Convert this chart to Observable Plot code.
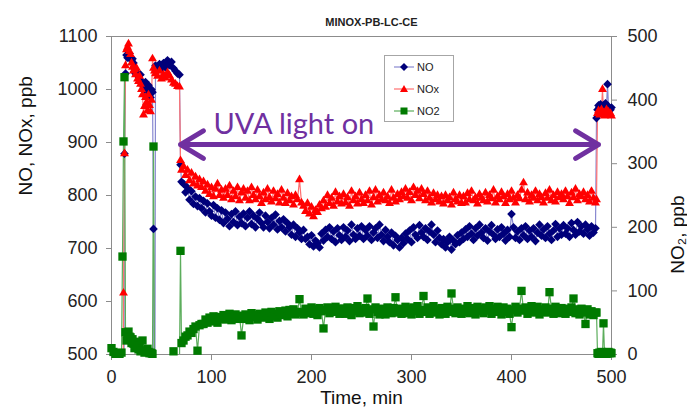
<!DOCTYPE html>
<html><head><meta charset="utf-8">
<script src="https://cdn.jsdelivr.net/npm/d3@7"></script>
<script src="https://cdn.jsdelivr.net/npm/@observablehq/plot@0.6"></script>
<style>
html,body{margin:0;padding:0;background:#fff;}
#wrap{position:relative;width:687px;height:413px;overflow:hidden;}
#legend{position:absolute;left:384px;top:55px;width:70px;height:67px;border:1px solid #a6a6a6;background:#fff;box-sizing:border-box;}
</style></head><body><div id="wrap"></div>
<script>
// ---- data (minutes; NO & NOx in ppb on the left axis, NO2 in ppb on the right axis) ----
const time = [
  0,2,4,6,8,10,11,12,13,
  14,15,16,17,18,19,20,21,22,23,24,25,26,27,28,29,30,31,32,33,34,35,36,37,38,39,40,41,
  42,43,
  44,46,48,50,52,54,56,58,60,62,64,66,68,
  69,70,
  72,74,76,78,80,82,84,86,88,90,
  92,94,96,98,100,102,104,106,108,110,
  112,114,116,118,120,122,124,126,128,130,
  132,134,136,138,140,142,144,146,148,150,
  152,154,156,158,160,162,164,166,168,170,
  172,174,176,178,180,182,184,186,188,190,
  192,194,196,198,200,202,204,206,208,210,
  212,214,216,218,220,222,224,226,228,230,
  232,234,236,238,240,242,244,246,248,250,
  252,254,256,258,260,262,264,266,268,270,
  272,274,276,278,280,282,284,286,288,290,
  292,294,296,298,300,302,304,306,308,310,
  312,314,316,318,320,322,324,326,328,330,
  332,334,336,338,340,342,344,346,348,350,
  352,354,356,358,360,362,364,366,368,370,
  372,374,376,378,380,382,384,386,388,390,
  392,394,396,398,400,402,404,406,408,410,
  412,414,416,418,420,422,424,426,428,430,
  432,434,436,438,440,442,444,446,448,450,
  452,454,456,458,460,462,464,466,468,470,
  472,474,476,478,480,482,484,
  485,486,487,488,489,490,491,492,493,494,495,496,497,498,499,500
];
const NO = [
  0,0,0,0,0,0,0,0,879,
  1030,1065,1060,1062,1068,1060,1055,1058,1050,1040,1030,1033,1028,1025,1020,1028,1015,1012,1005,1000,1014,1005,995,1008,990,985,1000,995,
  737,0,
  1045,1040,1048,1038,1050,1042,1055,1046,1052,1040,1035,1030,1028,
  858,826,
  822,806,815,792,808,784,798,780,795,776,
  790,768,785,770,762,782,758,776,754,772,
  748,768,756,742,765,750,770,744,760,748,
  766,742,758,770,746,762,740,756,768,748,
  740,762,750,738,758,745,764,736,752,740,
  755,732,748,740,726,745,722,738,730,718,
  735,718,722,708,725,704,715,710,702,728,
  715,735,722,740,718,732,712,738,725,716,
  740,722,734,714,745,726,718,738,724,742,
  718,735,724,742,716,730,738,720,745,726,
  714,735,722,712,730,706,724,716,702,720,
  710,728,718,734,712,740,726,720,744,730,
  722,738,716,732,745,726,712,734,720,708,
  718,702,712,722,698,715,708,725,712,730,
  718,736,722,742,728,716,738,724,745,730,
  720,738,715,732,744,726,718,736,722,740,
  728,715,735,722,765,740,720,732,716,738,
  725,742,718,734,722,738,714,730,745,724,
  736,720,742,728,716,734,746,722,738,726,
  744,728,738,722,748,735,726,750,732,742,
  728,745,736,724,742,730,738,
  946,962,970,966,972,968,965,970,966,974,968,1010,968,965,962,966
];
const NOx = [
  0,0,0,0,0,0,0,616,879,
  1045,1075,1080,1086,1072,1066,1050,1042,1035,1038,1028,1040,1020,1015,1025,1010,1000,990,952,968,985,975,960,990,970,958,980,1058,
  1040,1035,
  1030,1025,1035,1020,1028,1022,1032,1026,1018,1012,1010,1006,1005,
  866,848,
  855,838,848,828,842,822,835,818,830,815,
  826,808,820,802,815,798,812,822,800,810,
  795,812,800,818,792,808,798,815,790,805,
  812,795,808,790,815,800,792,810,798,785,
  805,792,812,796,788,808,794,802,786,810,
  795,785,804,790,798,782,800,792,830,786,
  780,770,785,765,778,760,772,768,782,775,
  790,778,800,785,795,780,806,788,798,784,
  802,786,796,780,808,790,798,784,805,792,
  785,800,790,808,782,796,810,788,800,792,
  805,790,798,785,810,795,788,802,792,806,
  798,812,795,806,790,815,800,808,794,812,
  802,790,808,795,786,804,792,800,788,798,
  784,800,790,796,782,805,792,788,800,785,
  798,786,804,792,808,790,796,784,802,795,
  790,805,788,800,794,810,786,798,792,806,
  798,785,802,792,808,795,786,800,794,810,
  824,792,805,788,800,795,808,790,802,796,
  786,804,795,810,790,800,788,806,796,802,
  792,808,798,785,805,796,812,790,802,798,
  806,792,800,788,808,795,786,
  792,955,960,952,958,962,1000,956,950,958,962,955,958,952,955,950
];
const NO2 = [
  10,4,1,2,1,3,154,335,436,
  35,22,30,36,28,27,18,24,17,10,14,20,14,8,12,5,6,22,6,3,4,5,9,4,2,3,2,1,
  327,-10,
  -10,-10,-10,-10,-10,-10,-10,-10,-10,5,-10,-10,-10,
  163,18,
  22,28,30,36,34,40,44,6,46,48,
  48,55,50,58,52,60,54,50,59,56,
  62,55,60,64,54,58,63,56,61,30,
  56,63,58,54,65,59,62,55,64,60,
  58,66,61,56,67,60,64,58,68,63,
  62,69,60,70,64,71,63,67,87,66,
  63,72,65,70,74,64,71,62,73,68,
  41,70,74,65,73,67,75,69,64,72,
  72,64,74,67,62,73,68,76,65,71,
  66,73,88,64,71,44,74,67,63,72,
  70,63,74,68,65,73,90,66,72,64,
  71,75,65,72,63,74,68,76,64,70,
  92,67,74,64,72,76,66,71,63,73,
  70,64,75,67,96,72,65,74,69,64,
  72,67,76,65,73,70,63,75,68,72,
  65,74,69,76,64,72,67,75,70,63,
  74,67,72,64,43,70,75,66,72,100,
  69,74,64,72,76,66,70,75,63,71,
  67,74,66,98,72,64,75,69,65,73,
  70,64,72,67,74,88,65,71,63,72,
  66,48,71,63,68,62,66,
  66,2,1,3,2,4,1,49,2,3,1,2,4,2,3,2
];
const xTicks = [0, 100, 200, 300, 400, 500];
const leftTicks = [500, 600, 700, 800, 900, 1000, 1100];
const rightTicks = [0, 100, 200, 300, 400, 500];
const seriesNames = ["NO", "NOx", "NO2"];
const titleText = "MINOX-PB-LC-CE";
const noteText = "UVA light on";
const arrowSpan = [69, 487];   // minutes
const arrowLevel = 896;         // ppb (left axis)
const noteAt = [102, 934];      // minutes, ppb

// ---- helpers ----
const leftDomain = [500, 1100], rightDomain = [0, 500];
const toLeft = v => leftDomain[0] + (v - rightDomain[0]) * (leftDomain[1] - leftDomain[0]) / (rightDomain[1] - rightDomain[0]);
const fromLeft = v => rightDomain[0] + (v - leftDomain[0]) * (rightDomain[1] - rightDomain[0]) / (leftDomain[1] - leftDomain[0]);
const rows = time.map((t, i) => ({t, NO: NO[i], NOx: NOx[i], NO2: NO2[i], NO2L: toLeft(NO2[i])}));

const col = {NO: "#00007a", NOx: "#ff0000", NO2: "#007a00"};
const lineCol = {NO: "#8888d0", NOx: "#ff7070", NO2: "#5cad5c"};
const purple = "#7030a0";
const axisGray = "#8c8c8c";
const inLeft = v => v >= leftDomain[0] && v <= leftDomain[1];
const mid = (arrowSpan[0] + arrowSpan[1]) / 2;

const chart = Plot.plot({
  width: 687, height: 413,
  marginLeft: 111, marginRight: 76, marginTop: 36, marginBottom: 59,
  style: {fontFamily: "'Liberation Sans', Arial, sans-serif", fontSize: "18px", color: "#222", background: "#fff", overflow: "visible"},
  x: {domain: [0, 500]},
  y: {domain: leftDomain},
  marks: [
    Plot.frame({stroke: axisGray}),
    Plot.axisX(xTicks, {tickSize: 6, tickPadding: 10, stroke: axisGray, fill: "#222", label: null, fontSize: 18, tickFormat: d => String(d)}),
    Plot.axisY(leftTicks, {anchor: "left", tickSize: 5, tickPadding: 9, stroke: axisGray, fill: "#222", label: null, fontSize: 18, tickFormat: d => String(d)}),
    Plot.axisY(rightTicks.map(toLeft), {anchor: "right", tickSize: 5, tickPadding: 11, stroke: axisGray, fill: "#222", label: null, fontSize: 18,
      tickFormat: d => String(Math.round(fromLeft(d)))}),
    Plot.lineY(rows, {x: "t", y: "NO", stroke: lineCol.NO, strokeWidth: 1.2, clip: true}),
    Plot.lineY(rows, {x: "t", y: "NOx", stroke: lineCol.NOx, strokeWidth: 1.2, clip: true}),
    Plot.lineY(rows, {x: "t", y: "NO2L", stroke: lineCol.NO2, strokeWidth: 1.2, clip: true}),
    Plot.dot(rows, {filter: d => inLeft(d.NO), x: "t", y: "NO", symbol: "diamond2", r: 3.9, fill: col.NO, stroke: "none"}),
    Plot.dot(rows, {filter: d => inLeft(d.NOx), x: "t", y: "NOx", symbol: "triangle", r: 3.3, fill: col.NOx, stroke: "none"}),
    Plot.dot(rows, {filter: d => d.NO2 >= rightDomain[0] && d.NO2 <= rightDomain[1], x: "t", y: "NO2L", symbol: "square", r: 4.7, fill: col.NO2, stroke: "none"}),
    Plot.arrow([arrowSpan[0], arrowSpan[1]], {x1: mid, y1: arrowLevel, x2: d => d, y2: arrowLevel, stroke: purple, strokeWidth: 5, headLength: 8, headAngle: 62}),
    Plot.text([noteText], {x: noteAt[0], y: noteAt[1], textAnchor: "start", fill: purple, fontSize: 29, fontFamily: "Lato, 'Open Sans', sans-serif"}),
    Plot.text([titleText], {frameAnchor: "top", dy: -18, dx: 10, fontWeight: "bold", fontSize: 11, fill: "#222"}),
    Plot.text(["NO, NOx, ppb"], {frameAnchor: "left", dx: -86, rotate: -90, fontSize: 19, fill: "#111"}),
    Plot.text(["NO\u2082, ppb"], {frameAnchor: "right", dx: 66, rotate: -90, fontSize: 19, fill: "#111"}),
    Plot.text(["Time, min"], {frameAnchor: "bottom", dy: 49, fontSize: 19, fill: "#111"})
  ]
});
const wrap = document.getElementById("wrap");
wrap.appendChild(chart);

// ---- legend (overlay box) ----
const legend = document.createElement("div");
legend.id = "legend";
const sym = {
  NO: (x, y) => `<path d="M${x},${y-4}L${x+4},${y}L${x},${y+4}L${x-4},${y}Z" fill="${col.NO}"/>`,
  NOx: (x, y) => `<path d="M${x},${y-4}L${x+4},${y+3}L${x-4},${y+3}Z" fill="${col.NOx}"/>`,
  NO2: (x, y) => `<rect x="${x-3.5}" y="${y-3.5}" width="7" height="7" fill="${col.NO2}"/>`
};
let s = `<svg width="68" height="65" style="font-family:'Liberation Sans',Arial,sans-serif;font-size:11px">`;
seriesNames.forEach((n, i) => {
  const y = 11 + i * 22;
  s += `<line x1="9" x2="29" y1="${y}" y2="${y}" stroke="${lineCol[n]}" stroke-width="1.2"/>`;
  s += sym[n](19, y);
  s += `<text x="32" y="${y + 4}" fill="#222">${n}</text>`;
});
s += `</svg>`;
legend.innerHTML = s;
wrap.appendChild(legend);
</script></body></html>
